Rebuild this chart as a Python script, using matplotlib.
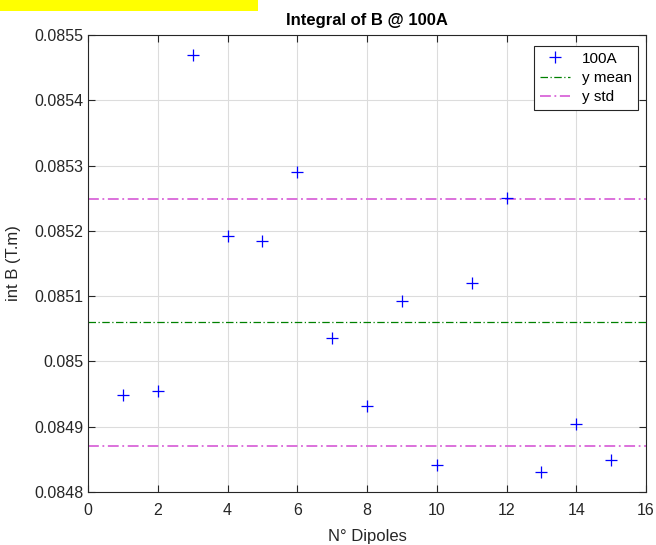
import numpy as np
import matplotlib
matplotlib.use("Agg")
import matplotlib.pyplot as plt
from matplotlib.patches import Rectangle

plt.rcParams['font.family'] = ['Liberation Sans', 'DejaVu Sans']

dipoles = np.arange(1, 16)
int_b = [0.084949, 0.084955, 0.085469, 0.085192, 0.085184, 0.085290, 0.085036,
         0.084932, 0.085092, 0.084842, 0.085120, 0.085251, 0.084830, 0.084904, 0.084849]
x_ticks = list(range(0, 17, 2))
y_ticks = [0.0848, 0.0849, 0.0850, 0.0851, 0.0852, 0.0853, 0.0854, 0.0855]
y_tick_labels = ['0.0848', '0.0849', '0.085', '0.0851', '0.0852', '0.0853', '0.0854', '0.0855']

mean_v = np.mean(int_b)
std_v = np.std(int_b, ddof=1)

fig = plt.figure(figsize=(6.56, 5.45), dpi=100)
fig.patches.append(Rectangle((0, 1 - 11/545), 258/656, 11/545, transform=fig.transFigure,
                             facecolor='#ffff00', edgecolor='none', zorder=0))
ax = fig.add_axes([88/656, 1 - 492/545, (646-88)/656, (492-35)/545])

ax.plot(dipoles, int_b, linestyle='none', marker='+', color='#0000ff', markersize=8.5,
        markeredgewidth=0.9, label='100A', zorder=3)
ax.axhline(mean_v, color='#008000', linestyle=(0, (6, 2, 1, 2)), linewidth=0.9, label='y mean', zorder=2)
ax.axhline(mean_v + std_v, color='#d966d9', linestyle=(0, (6, 2, 1, 2)), linewidth=1.3, label='y std', zorder=2)
ax.axhline(mean_v - std_v, color='#d966d9', linestyle=(0, (6, 2, 1, 2)), linewidth=1.3, zorder=2)

ax.set_xlim(0, 16)
ax.set_ylim(0.0848, 0.0855)
ax.set_xticks(x_ticks)
ax.set_yticks(y_ticks)
ax.set_yticklabels(y_tick_labels)
ax.grid(True, color='#dcdcdc', linewidth=0.8)
ax.set_axisbelow(True)
ax.tick_params(direction='in', top=True, right=True, length=5, labelsize=11.5,
               color='#262626', labelcolor='#262626', width=0.8)
ax.tick_params(axis='x', pad=8)
for s in ax.spines.values():
    s.set_color('#262626')
    s.set_linewidth(0.8)

ax.set_title('Integral of B @ 100A', fontsize=12, fontweight='bold', pad=7)
ax.set_xlabel('N° Dipoles', fontsize=12, color='#262626', labelpad=8)
ax.set_ylabel('int B (T.m)', fontsize=12, color='#262626', labelpad=9)

leg = ax.legend(loc='upper right', bbox_to_anchor=(0.985, 0.975), fontsize=11,
                frameon=True, fancybox=False, edgecolor='#262626', framealpha=1,
                handlelength=2.0, handletextpad=0.8, borderpad=0.35, labelspacing=0.35,
                borderaxespad=0)
leg.get_frame().set_linewidth(0.8)

fig.savefig('out.png', dpi=100)
